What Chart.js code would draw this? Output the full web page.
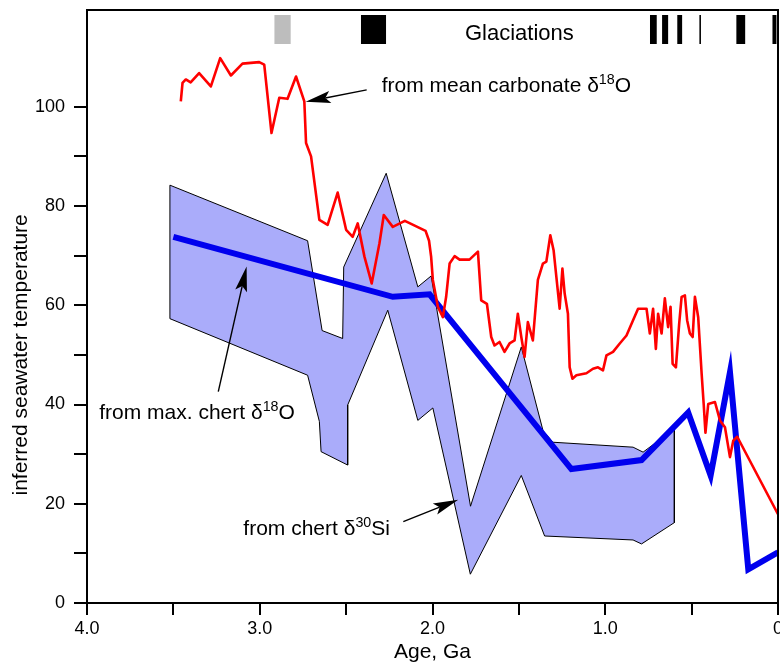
<!DOCTYPE html>
<html><head><meta charset="utf-8">
<script src="https://cdn.jsdelivr.net/npm/chart.js@4.4.1/dist/chart.umd.min.js"></script>
<style>
html,body{margin:0;padding:0;overflow:hidden;background:#fff;width:780px;height:665px}
#wrap{position:relative;width:800px;height:665px}
</style>
</head><body><div id="wrap"><canvas id="c" width="800" height="665"></canvas></div>
<script>
const FONT = "'Liberation Sans', Arial, Helvetica, sans-serif";

// ---- data (age in Ga, temperature) ----
const redAge = [3.457,3.447,3.428,3.40,3.351,3.283,3.229,3.167,3.10,3.003,
  2.974,2.932,2.887,2.839,2.79,2.742,2.732,2.703,2.655,2.607,
  2.549,2.50,2.462,2.433,2.394,2.352,2.307,2.282,2.23,2.16,
  2.10,2.04,2.02,2.008,1.998,1.969,1.94,1.921,1.901,1.872,
  1.843,1.786,1.737,1.718,1.685,1.66,1.641,1.612,1.583,1.554,
  1.525,1.506,1.486,1.467,1.448,1.419,1.39,1.361,1.341,1.318,
  1.299,1.283,1.264,1.248,1.235,1.216,1.206,1.19,1.167,1.109,
  1.071,1.042,1.013,0.993,0.955,0.916,0.877,0.839,0.81,0.761,
  0.742,0.723,0.707,0.694,0.674,0.655,0.636,0.622,0.61,0.591,
  0.572,0.558,0.539,0.526,0.51,0.494,0.481,0.462,0.442,0.43,
  0.42,0.404,0.365,0.336,0.307,0.278,0.259,0.236,0];
const redTemp = [101.1,104.8,105.5,104.9,106.8,104.1,109.8,106.3,108.7,109.0,
  108.5,94.7,101.8,101.6,106.1,101.1,92.7,90.0,77.2,76.2,
  82.7,75.2,73.8,76.5,69.8,64.4,72.5,78.2,75.8,77.0,
  76.0,75.0,73.0,69.8,65.1,59.7,57.6,61.7,68.4,69.9,
  69.2,69.2,70.8,61.0,60.3,53.6,51.9,52.6,50.6,52.3,
  52.9,58.3,53.6,49.6,56.6,52.9,65.1,68.4,68.8,74.1,
  71.1,65.7,59.3,67.4,62.4,58.3,47.5,45.2,45.9,46.3,
  47.2,47.5,46.9,49.9,50.6,52.3,53.9,57.0,59.3,59.3,
  54.3,59.3,51.2,58.3,54.3,61.4,55.6,59.7,48.2,47.5,
  56.3,61.7,62.0,57.0,54.3,53.6,61.7,57.6,46.2,40.0,
  34.3,40.1,40.5,36.8,35.4,29.4,32.7,33.5,17.9];

const blueAge  = [3.5,2.23,2.017,1.196,0.79,0.52,0.39,0.278,0.172,0];
const blueTemp = [73.8,61.7,62.2,27.0,28.8,38.4,25.7,46.5,6.8,10.2];

const bandUpperAge  = [3.52,2.723,2.639,2.52,2.514,2.268,2.085,2.008,1.78,1.486,1.36,1.303,0.839,0.781,0.6];
const bandUpperTemp = [84.2,73.0,54.9,53.3,67.7,86.6,63.7,65.9,19.5,51.6,34.7,32.4,31.4,30.4,35.1];
const bandLowerAge  = [3.52,2.723,2.655,2.645,2.491,2.491,2.259,2.085,1.998,1.781,1.486,1.351,0.839,0.79,0.6];
const bandLowerTemp = [57.3,45.9,36.6,30.5,27.8,39.9,59.0,36.8,39.3,5.8,25.7,13.5,12.7,11.9,16.2];

const glacStart = [2.915,2.414,0.741,0.671,0.583,0.455,0.241,0.032];
const glacEnd   = [2.821,2.269,0.702,0.636,0.555,0.446,0.190,0.009];
const glacKind  = ['uncertain','known','known','known','known','known','known','known'];

const xTickValues = [4,3.5,3,2.5,2,1.5,1,0.5,0];
const xTickLabels = {4:'4.0',3:'3.0',2:'2.0',1:'1.0',0:'0'};
const yTickValues = [0,10,20,30,40,50,60,70,80,90,100];
const yTickLabels = {0:'0',20:'20',40:'40',60:'60',80:'80',100:'100'};

// ---- build ----
const pts = (a, t) => a.map((x, i) => ({x, y: t[i]}));
const bandPoly = pts(bandUpperAge, bandUpperTemp).concat(pts(bandLowerAge, bandLowerTemp).reverse());
bandPoly.push(bandPoly[0]);

function drawRich(ctx, parts, x, y, size) {
  let cx = x;
  ctx.textAlign = 'left';
  ctx.textBaseline = 'alphabetic';
  for (const [txt, sup] of parts) {
    const s = sup ? size * 0.68 : size;
    ctx.font = s + 'px ' + FONT;
    ctx.fillText(txt, cx, sup ? y - size * 0.38 : y);
    cx += ctx.measureText(txt).width;
  }
}
function arrow(ctx, x0, y0, x1, y1) {
  const ang = Math.atan2(y1 - y0, x1 - x0), L = 25, W = 6;
  const c = Math.cos(ang), s = Math.sin(ang);
  const bx = x1 - L * c, by = y1 - L * s;
  const nx = x1 - L * 0.8 * c, ny = y1 - L * 0.8 * s;
  ctx.beginPath(); ctx.moveTo(x0, y0); ctx.lineTo(nx, ny);
  ctx.lineWidth = 1.4; ctx.stroke();
  ctx.beginPath(); ctx.moveTo(x1, y1);
  ctx.lineTo(bx + W * s, by - W * c);
  ctx.lineTo(nx, ny);
  ctx.lineTo(bx - W * s, by + W * c);
  ctx.closePath(); ctx.fill();
}

const annotations = [
  {parts: [['from mean carbonate δ', false], ['18', true], ['O', false]], at: [2.294, 102.9],
   arrow: [[2.381, 103.4], [2.734, 101.0]]},
  {parts: [['from max. chert δ', false], ['18', true], ['O', false]], at: [3.929, 37.1],
   arrow: [[3.240, 42.6], [3.076, 67.8]]},
  {parts: [['from chert δ', false], ['30', true], ['Si', false]], at: [3.095, 13.7],
   arrow: [[2.169, 16.4], [1.851, 20.8]]}
];

const extras = {
  id: 'extras',
  afterDraw(chart) {
    const {ctx, chartArea: a, scales: {x, y}} = chart;
    ctx.save();
    ctx.strokeStyle = '#000'; ctx.lineWidth = 2;
    ctx.strokeRect(a.left, a.top, a.right - a.left, a.bottom - a.top);
    // glaciations
    glacStart.forEach((s, i) => {
      const x0 = x.getPixelForValue(s), x1 = x.getPixelForValue(glacEnd[i]);
      ctx.fillStyle = glacKind[i] === 'uncertain' ? '#bdbdbd' : '#000';
      ctx.fillRect(Math.min(x0, x1), a.top + 5, Math.max(1.5, Math.abs(x1 - x0)), 29);
    });
    ctx.fillStyle = '#000';
    ctx.font = '22px ' + FONT;
    ctx.textAlign = 'left'; ctx.textBaseline = 'alphabetic';
    ctx.fillText('Glaciations', x.getPixelForValue(1.812), a.top + 30);
    // annotations
    ctx.strokeStyle = '#000'; ctx.fillStyle = '#000';
    for (const an of annotations) {
      drawRich(ctx, an.parts, x.getPixelForValue(an.at[0]), y.getPixelForValue(an.at[1]), 21);
      const [t, h] = an.arrow;
      arrow(ctx, x.getPixelForValue(t[0]), y.getPixelForValue(t[1]), x.getPixelForValue(h[0]), y.getPixelForValue(h[1]));
    }
    // axis titles
    ctx.font = '21px ' + FONT;
    ctx.textAlign = 'center'; ctx.textBaseline = 'alphabetic';
    ctx.fillText('Age, Ga', x.getPixelForValue(2), 658);
    ctx.translate(27, y.getPixelForValue(50));
    ctx.rotate(-Math.PI / 2);
    ctx.fillText('inferred seawater temperature', 0, 0);
    ctx.restore();
  }
};

new Chart(document.getElementById('c'), {
  type: 'line',
  data: {
    datasets: [
      {label: 'mean carbonate', data: pts(redAge, redTemp), borderColor: '#ff0000', borderWidth: 2.6,
       pointRadius: 0, fill: false, order: 0, borderJoinStyle: 'round'},
      {label: 'max chert', data: pts(blueAge, blueTemp), borderColor: '#0000ee', borderWidth: 6,
       pointRadius: 0, fill: false, order: 1, borderJoinStyle: 'miter'},
      {label: 'chert Si', data: bandPoly, borderColor: '#000', borderWidth: 1,
       backgroundColor: 'rgb(170,172,250)', fill: 'shape', pointRadius: 0, order: 2}
    ]
  },
  options: {
    responsive: false, animation: false, devicePixelRatio: 1,
    layout: {padding: {left: 0, right: 22, top: 10, bottom: 0}},
    plugins: {legend: {display: false}, tooltip: {enabled: false}},
    scales: {
      x: {
        type: 'linear', reverse: true, min: 0, max: 4,
        afterBuildTicks: s => { s.ticks = xTickValues.map(v => ({value: v})); },
        afterFit: s => { s.height = 62; s.paddingLeft = 0; s.paddingRight = 0; },
        ticks: {autoSkip: false, maxRotation: 0, padding: 3, color: '#000',
          font: {family: FONT, size: 18},
          callback: v => (v in xTickLabels ? xTickLabels[v] : '')},
        grid: {drawOnChartArea: false, drawTicks: true, tickLength: 12, color: '#000', lineWidth: 2},
        border: {display: true, color: '#000', width: 2}
      },
      y: {
        type: 'linear', min: 0, max: 119.5,
        afterBuildTicks: s => { s.ticks = yTickValues.map(v => ({value: v})); },
        afterFit: s => { s.width = 87; s.paddingTop = 0; s.paddingBottom = 0; },
        ticks: {autoSkip: false, padding: 9, color: '#000',
          font: {family: FONT, size: 18},
          callback: v => (v in yTickLabels ? yTickLabels[v] : '')},
        grid: {drawOnChartArea: false, drawTicks: true, tickLength: 13, color: '#000', lineWidth: 2},
        border: {display: true, color: '#000', width: 2}
      }
    }
  },
  plugins: [extras]
});
</script>
</body></html>
